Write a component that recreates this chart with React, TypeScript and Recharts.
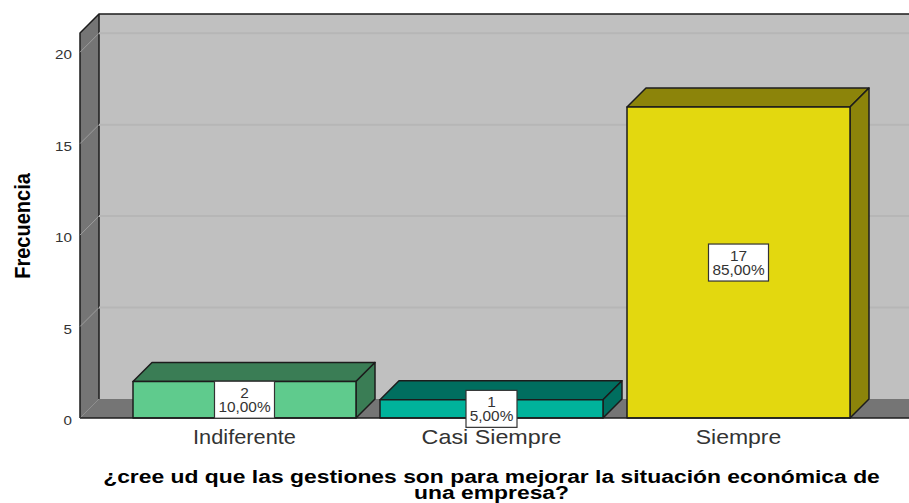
import React from "react";
import { BarChart, Bar, XAxis, YAxis, ReferenceArea, LabelList } from "recharts";

const categories = ["Indiferente", "Casi Siempre", "Siempre"];
const counts = [2, 1, 17];
const percents = ["10,00%", "5,00%", "85,00%"];
const frontColors = ["#5fcb8d", "#00b39b", "#e3d80f"];
const shadeColors = ["#3a7d55", "#006e5f", "#8c840a"];
const yTicks = [0, 5, 10, 15, 20];
const gridValues = [5, 10, 15, 20];
const yMax = 21.05;
const titleLines = [
  "¿cree ud que las gestiones son para mejorar la situación económica de",
  "una empresa?",
];

const rows = categories.map((name, i) => ({ name, count: counts[i], percent: percents[i] }));

const DEPTH = 19;
const PAD_LEFT = 41;
const PAD_RIGHT = 47;
const FONT = "'Liberation Sans', Arial, sans-serif";
const INK = "#1c1c1c";
const tickStretch: Record<string, number> = { Indiferente: 1.09, "Casi Siempre": 1.165, Siempre: 1.15 };

// Text widened horizontally around its anchor point.
function Wide({ x, y, sx = 1, size, bold, anchor = "middle", fill = "#333333", children }: any) {
  return (
    <text
      transform={`translate(${x},${y}) scale(${sx},1)`}
      textAnchor={anchor}
      fontFamily={FONT}
      fontSize={size}
      fontWeight={bold ? 700 : 400}
      fill={fill}
    >
      {children}
    </text>
  );
}

// Back wall, side wall and floor of the 3D box.
function Room({ x, y, width, height }: any) {
  const left = x - PAD_LEFT;
  const right = x + width + PAD_RIGHT;
  const bottom = y + height;
  return (
    <g>
      <rect x={left + DEPTH} y={y - DEPTH} width={right - left - DEPTH} height={height} fill="#c0c0c0" />
      <polygon
        points={`${left},${y} ${left + DEPTH},${y - DEPTH} ${left + DEPTH},${bottom - DEPTH} ${left},${bottom}`}
        fill="#757575"
      />
      <polygon
        points={`${left},${bottom} ${left + DEPTH},${bottom - DEPTH} ${right},${bottom - DEPTH} ${right},${bottom}`}
        fill="#757575"
      />
      <path
        d={`M${left},${bottom} L${left},${y} L${left + DEPTH},${y - DEPTH} L${right},${y - DEPTH}`}
        fill="none"
        stroke={INK}
        strokeWidth={1.5}
      />
      <path d={`M${left + DEPTH},${y - DEPTH} L${left + DEPTH},${bottom - DEPTH}`} stroke={INK} strokeWidth={1.5} />
      <path d={`M${left},${bottom} L${left + DEPTH},${bottom - DEPTH}`} stroke="#8f8f8f" strokeWidth={1} />
    </g>
  );
}

// Gridline folded across the side wall and back wall; drawn from a zero-height
// reference area so that it stays behind the bars.
function FoldedLine({ x, y, width }: any) {
  const left = x - PAD_LEFT;
  const right = x + width + PAD_RIGHT;
  return (
    <g>
      <line x1={left} y1={y} x2={left + DEPTH} y2={y - DEPTH} stroke="#9c9c9c" strokeWidth={1} />
      <line x1={left + DEPTH} y1={y - DEPTH} x2={right} y2={y - DEPTH} stroke="#b6b6b6" strokeWidth={2} />
    </g>
  );
}

function Box3D({ x, y, width, height, index }: any) {
  const front = frontColors[index];
  const shade = shadeColors[index];
  const r = x + width;
  const b = y + height;
  return (
    <g stroke={INK} strokeWidth={1.5} strokeLinejoin="round">
      <polygon points={`${x},${y} ${x + DEPTH},${y - DEPTH} ${r + DEPTH},${y - DEPTH} ${r},${y}`} fill={shade} />
      <polygon points={`${r},${y} ${r + DEPTH},${y - DEPTH} ${r + DEPTH},${b - DEPTH} ${r},${b}`} fill={shade} />
      <rect x={x} y={y} width={width} height={height} fill={front} />
    </g>
  );
}

function ValueBox({ x, y, width, height, index }: any) {
  const cx = x + width / 2;
  const cy = y + height / 2;
  const text = percents[index];
  const w = text.length === 5 ? 51 : 60;
  return (
    <g>
      <rect x={cx - w / 2} y={cy - 18.5} width={w} height={37} fill="#ffffff" stroke="#333333" strokeWidth={1.2} />
      <Wide x={cx} y={cy - 2} sx={1.1} size={14}>{counts[index]}</Wide>
      <Wide x={cx} y={cy + 12} sx={1.1} size={14}>{text}</Wide>
    </g>
  );
}

function CategoryTick({ x, y, payload }: any) {
  return <Wide x={x} y={y + 18} sx={tickStretch[payload.value]} size={20}>{payload.value}</Wide>;
}

function CountTick({ x, y, payload }: any) {
  return <Wide x={x} y={y + 7} sx={1.17} size={13} anchor="end">{payload.value}</Wide>;
}

function XTitle() {
  return (
    <g>
      <Wide x={491.5} y={483} sx={1.308} size={17.5} bold fill="#000">{titleLines[0]}</Wide>
      <Wide x={491.5} y={499} sx={1.308} size={17.5} bold fill="#000">{titleLines[1]}</Wide>
    </g>
  );
}

function YTitle() {
  return (
    <text
      transform="translate(30,226) rotate(-90) scale(0.91,1)"
      textAnchor="middle"
      fontFamily={FONT}
      fontSize={22}
      fontWeight={700}
      fill="#000"
    >
      Frecuencia
    </text>
  );
}

export default function App() {
  return (
    <div style={{ position: "absolute", left: 0, top: 0 }}>
      <BarChart
        width={909}
        height={503}
        data={rows}
        margin={{ top: 33, right: 0, bottom: 0, left: 0 }}
        barSize={223}
      >
        <ReferenceArea y1={0} y2={yMax} shape={<Room />} ifOverflow="visible" />
        {gridValues.map((v) => (
          <ReferenceArea key={v} y1={v} y2={v} shape={<FoldedLine />} ifOverflow="visible" />
        ))}
        <XAxis
          dataKey="name"
          height={85}
          padding={{ left: PAD_LEFT, right: PAD_RIGHT }}
          axisLine={{ stroke: INK, strokeWidth: 1.5 }}
          tickLine={false}
          tick={<CategoryTick />}
          interval={0}
          label={<XTitle />}
        />
        <YAxis
          width={80}
          domain={[0, yMax]}
          ticks={yTicks}
          axisLine={false}
          tickLine={false}
          tick={<CountTick />}
          label={<YTitle />}
        />
        <Bar dataKey="count" shape={<Box3D />} isAnimationActive={false}>
          <LabelList dataKey="count" content={<ValueBox />} />
        </Bar>
      </BarChart>
    </div>
  );
}
